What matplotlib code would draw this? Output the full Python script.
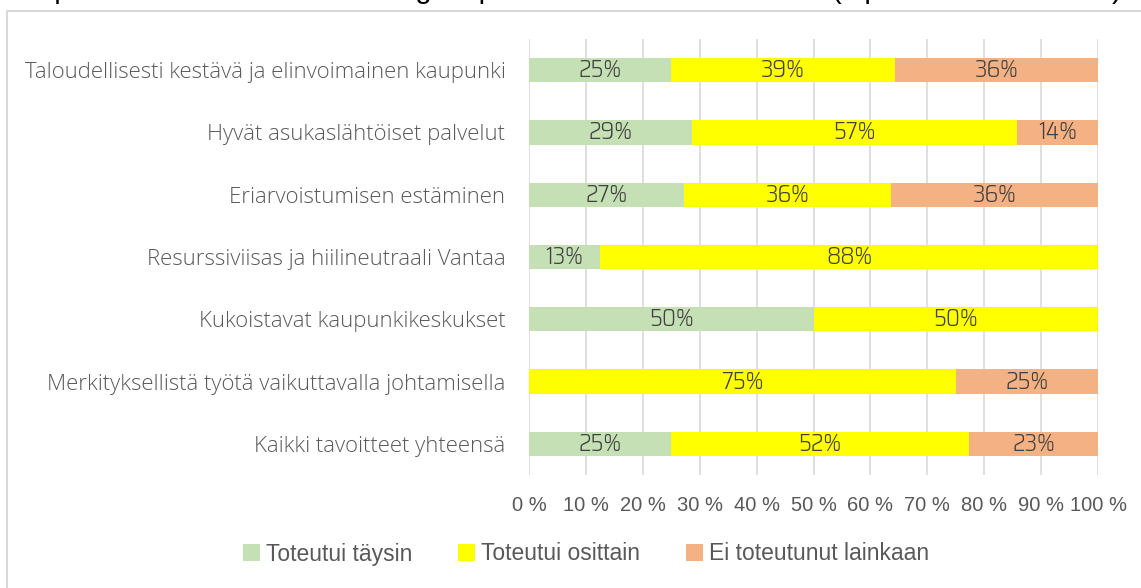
import matplotlib
matplotlib.use("Agg")
import matplotlib.pyplot as plt
from matplotlib.patches import Rectangle, Patch

categories = [
    "Taloudellisesti kestävä ja elinvoimainen kaupunki",
    "Hyvät asukaslähtöiset palvelut",
    "Eriarvoistumisen estäminen",
    "Resurssiviisas ja hiilineutraali Vantaa",
    "Kukoistavat kaupunkikeskukset",
    "Merkityksellistä työtä vaikuttavalla johtamisella",
    "Kaikki tavoitteet yhteensä",
]
series_names = ["Toteutui täysin", "Toteutui osittain", "Ei toteutunut lainkaan"]
taysin = [25.0, 28.6, 27.3, 12.5, 50.0, 0.0, 25.0]
osittain = [39.3, 57.1, 36.4, 87.5, 50.0, 75.0, 52.3]
ei = [35.7, 14.3, 36.4, 0.0, 0.0, 25.0, 22.7]
xtick_vals = [0, 10, 20, 30, 40, 50, 60, 70, 80, 90, 100]
xtick_labels = [f"{v} %" for v in xtick_vals]
title = "Lupausten toteutuminen strategian pääteemoittain 2018–2021 (lupausten lukumäärä)"

colors = ["#C5E0B4", "#FFFF00", "#F4B183"]
cat_font = ["Open Sans", "DejaVu Sans"]
lab_font = ["Saira SemiCondensed", "Sofia Sans Condensed", "DejaVu Sans"]
tick_font = ["Liberation Sans", "DejaVu Sans"]

W, H = 1141, 588
fig = plt.figure(figsize=(W / 100, H / 100), dpi=100)
ax = fig.add_axes([529 / W, 1 - 475 / H, (1098 - 529) / W, (475 - 39) / H])

y = list(range(len(categories)))
left = [0.0] * len(categories)
for vals, col in zip([taysin, osittain, ei], colors):
    ax.barh(y, vals, left=left, height=0.39, color=col, zorder=2)
    for yi, v, l in zip(y, vals, left):
        if v > 0:
            ax.text(l + v / 2, yi, f"{int(v + 0.5)}%", ha="center", va="center",
                    fontsize=17.5, color="#404040", family=lab_font, fontweight=300,
                    zorder=3)
    left = [a + b for a, b in zip(left, vals)]

ax.set_xlim(0, 100)
ax.set_ylim(len(categories) - 0.5, -0.5)
ax.set_xticks(xtick_vals)
ax.set_xticklabels(xtick_labels, family=tick_font, fontsize=14.5, color="#595959")
ax.set_yticks(y)
ax.set_yticklabels(categories, family=cat_font, fontsize=15.9, fontweight="light",
                   color="#595959")
ax.tick_params(axis="both", length=0)
ax.tick_params(axis="y", pad=17)
ax.tick_params(axis="x", pad=15)
ax.grid(axis="x", color="#D9D9D9", linewidth=1.2, zorder=0)
for s in ax.spines.values():
    s.set_visible(False)

# chart border (partly outside the canvas)
fig.patches.append(Rectangle((7 / W, -0.1), 1.2, 1 - 11.5 / H + 0.1, transform=fig.transFigure,
                             fill=False, edgecolor="#D9D9D9", linewidth=1.5))

fig.text(572 / W, 1 + 2 / H, title, ha="center", va="baseline", fontsize=21,
         family=tick_font, color="#000000")

handles = [Patch(facecolor=c, edgecolor="none") for c in colors]
fig.legend(handles, series_names, loc="center", bbox_to_anchor=(586 / W, 1 - 554 / H),
           ncol=3, frameon=False, prop={"family": tick_font, "size": 16.5},
           labelcolor="#595959", handlelength=0.75, handleheight=0.75, handletextpad=0.25,
           columnspacing=2.0)

fig.savefig("out.png", dpi=100)
